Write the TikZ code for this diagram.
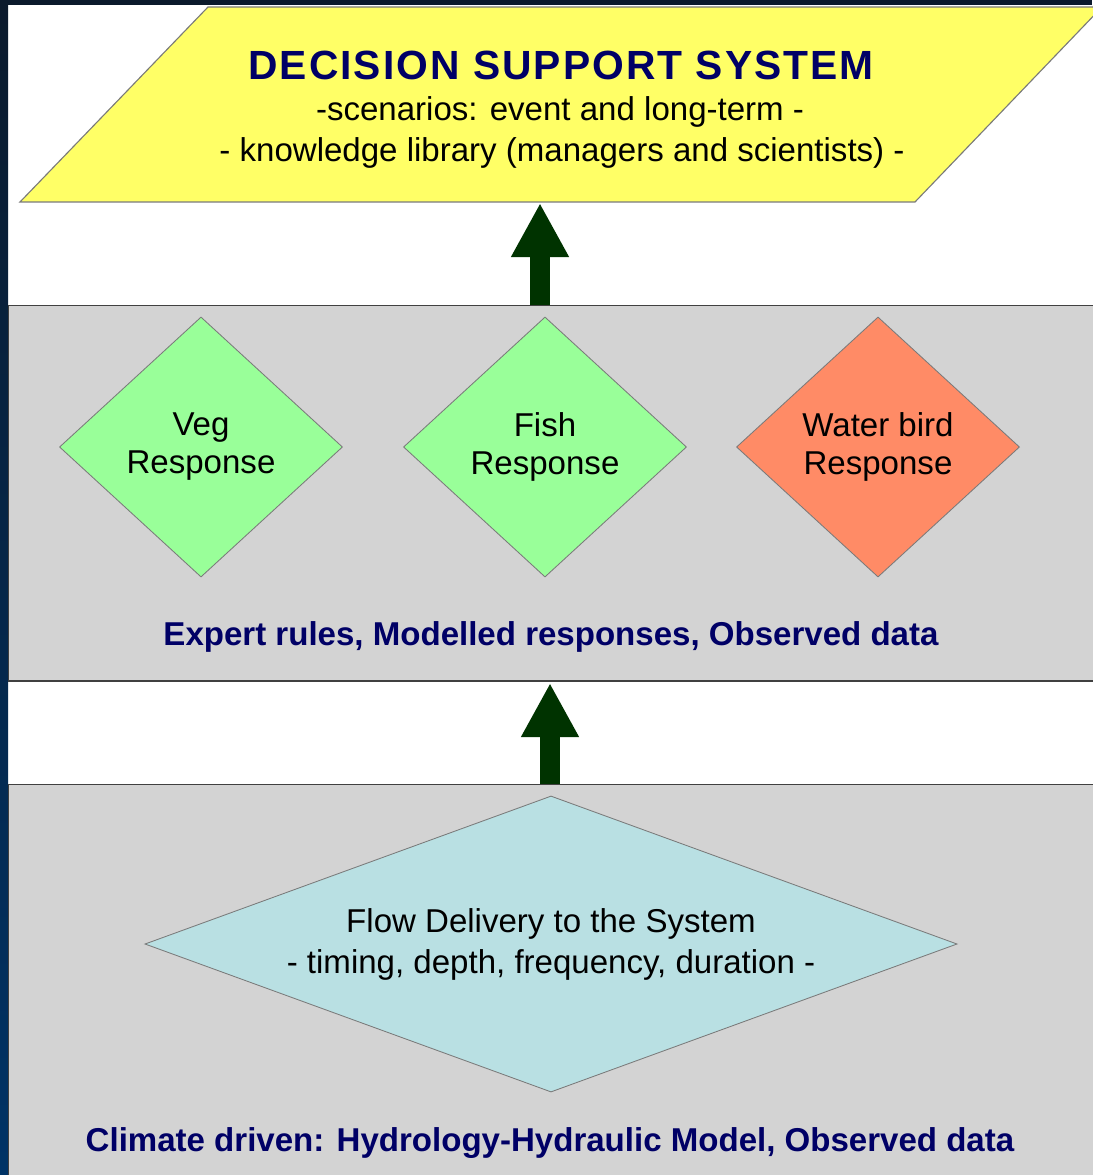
\documentclass[tikz,border=0pt]{standalone}
\usepackage{fontspec}
\setmainfont{Liberation Sans}
\usetikzlibrary{arrows.meta, positioning, shapes.geometric}
\definecolor{cnavy}{HTML}{000066}
\definecolor{cyellow}{HTML}{FFFF66}
\definecolor{cband}{HTML}{D3D3D3}
\definecolor{cgreen}{HTML}{99FF99}
\definecolor{corange}{HTML}{FF8B66}
\definecolor{cblue}{HTML}{B9E0E3}
\definecolor{carrow}{HTML}{003300}
\definecolor{cedge}{HTML}{7A7A7A}
\definecolor{cdeep}{HTML}{0B1A2C}
\definecolor{cside}{HTML}{003366}
\tikzset{
  every picture/.style={x=0.025cm, y=-0.025cm},
  band/.style={draw=black!75, fill=cband, line width=1pt, anchor=north west, inner sep=0pt, minimum width=27.6cm},
  resp/.style={diamond, draw=cedge, fill=#1, line width=0.6pt, aspect=1.09, inner sep=0pt, align=center,
               minimum width=7.075cm, minimum height=6.5cm, font=\fontsize{23.5}{27}\selectfont},
  resp/.default=cgreen,
  bandnote/.style={anchor=base, text=cnavy, font=\fontsize{23.5}{28}\selectfont\bfseries},
  subline/.style={anchor=base, font=\fontsize{23.5}{28}\selectfont},
  uparrow/.style={-{Triangle[length=1.35cm, width=1.35cm]}, draw=carrow, line width=0.5cm},
}
\begin{document}
\begin{tikzpicture}
  \useasboundingbox (0,0) rectangle (1092,1175);
  % page frame: white sheet, dark strips on top and left
  \fill[white] (0,0) rectangle (1092,1175);
  \shade[top color=cdeep, bottom color=cside] (0,0) rectangle (8,1175);
  \fill[cdeep] (0,0) rectangle (1092,5);
  % decision support system
  \draw[draw=cedge, fill=cyellow, line width=0.8pt] (20,202) -- (208,7) -- (1102,7) -- (915,202) -- cycle;
  \node[anchor=base, text=cnavy, font=\fontsize{29}{32}\selectfont\bfseries\addfontfeatures{LetterSpace=5}] (dss) at (561,80) {DECISION SUPPORT SYSTEM};
  \node[subline] (dssa) at (560,121) {-scenarios: event and long-term -};
  \node[subline] (dssb) at (562,162) {- knowledge library (managers and scientists) -};
  \coordinate (dssbase) at (540,203);
  % ecological responses
  \node[band, minimum height=9.375cm] (respband) at (8,305) {};
  \node[resp] (veg) at (201,447) {Veg\\Response};
  \node[resp] (fish) at (545,447) {Fish\\Response};
  \node[resp=corange] (bird) at (878,447) {Water bird\\Response};
  \node[bandnote] (rules) at (551,645) {Expert rules, Modelled responses, Observed data};
  % hydrology
  \node[band, minimum height=10.2cm] (flowband) at (8,784) {};
  \node[resp=cblue, aspect=2.75, minimum width=20.3cm, minimum height=7.4cm,
        font=\fontsize{23.5}{29.2}\selectfont] (flow) at (551,944) {Flow Delivery to the System\\- timing, depth, frequency, duration -};
  \node[bandnote] (climate) at (550,1151) {Climate driven: Hydrology-Hydraulic Model, Observed data};
  \coordinate (respbase) at (550,683);
  % block arrows upwards
  \draw[uparrow] (respband.north -| dssbase) -- (dssbase);
  \draw[uparrow] (flowband.north -| respbase) -- (respbase);
\end{tikzpicture}
\end{document}
